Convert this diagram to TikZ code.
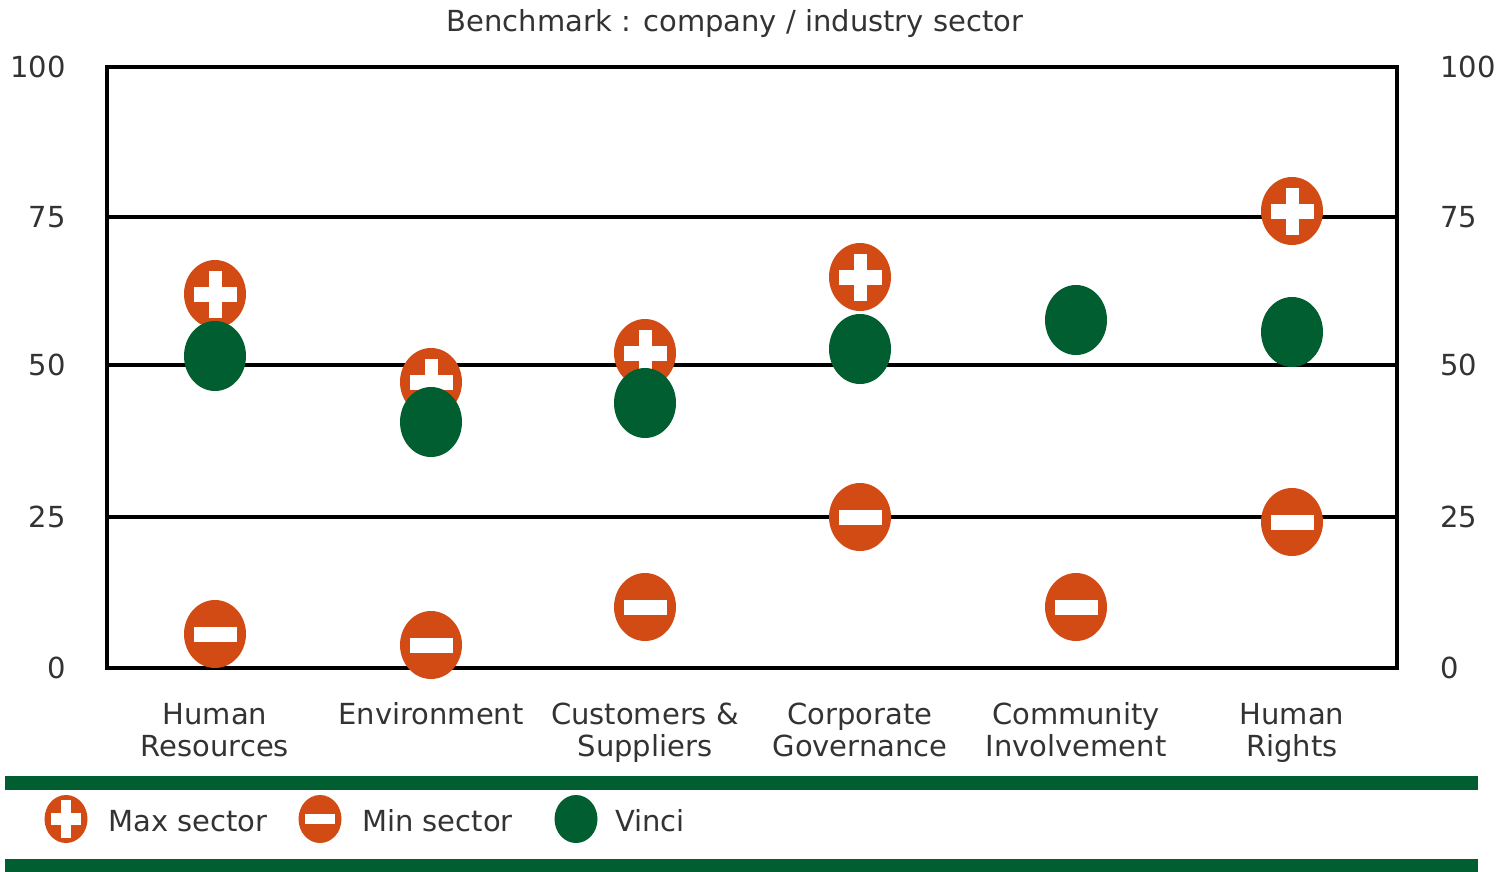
\documentclass[tikz,border=0pt]{standalone}
\usepackage{fontspec}
\setmainfont{DejaVu Sans}
\usetikzlibrary{shapes.geometric}
\definecolor{markorange}{HTML}{D24B14}
\definecolor{markgreen}{HTML}{005E30}
\definecolor{txt}{HTML}{333333}
\begin{document}
\begin{tikzpicture}[x=1pt,y=-1pt,
  lbl/.style={font=\fontsize{29}{32}\selectfont, text=txt, inner sep=0, align=center},
  cat/.style={lbl, anchor=north},
  grid/.style={line width=4pt, black},
  maxm/.style={ellipse, fill=markorange, minimum width=62, minimum height=68, inner sep=0,
    path picture={
      \fill[white] ([shift={(-21.5,-7.5)}]path picture bounding box.center) rectangle ([shift={(21.5,7.5)}]path picture bounding box.center);
      \fill[white] ([shift={(-6.5,-23.5)}]path picture bounding box.center) rectangle ([shift={(6.5,23.5)}]path picture bounding box.center);}},
  minm/.style={ellipse, fill=markorange, minimum width=62, minimum height=68, inner sep=0,
    path picture={
      \fill[white] ([shift={(-21.5,-7.5)}]path picture bounding box.center) rectangle ([shift={(21.5,7.5)}]path picture bounding box.center);}},
  vinm/.style={ellipse, fill=markgreen, minimum width=62, minimum height=70, inner sep=0},
  lmaxm/.style={ellipse, fill=markorange, minimum width=43, minimum height=48, inner sep=0,
    path picture={
      \fill[white] ([shift={(-15,-6)}]path picture bounding box.center) rectangle ([shift={(15,6)}]path picture bounding box.center);
      \fill[white] ([shift={(-5,-19)}]path picture bounding box.center) rectangle ([shift={(5,19)}]path picture bounding box.center);}},
  lminm/.style={ellipse, fill=markorange, minimum width=43, minimum height=48, inner sep=0,
    path picture={
      \fill[white] ([shift={(-15,-5)}]path picture bounding box.center) rectangle ([shift={(15,5)}]path picture bounding box.center);}},
  lvinm/.style={ellipse, fill=markgreen, minimum width=43, minimum height=48, inner sep=0},
  band/.style={markgreen, line width=14pt},
]
\useasboundingbox (0,0) rectangle (1499,871);
% title
\node[lbl] (title) at (735,23) {Benchmark : company / industry sector};
% grid and frame
\draw[grid] (107,217) -- (1397,217);
\draw[grid] (107,365) -- (1397,365);
\draw[grid] (107,517) -- (1397,517);
\draw[grid] (107,67) rectangle (1397,668);
% left axis labels
\node[lbl, anchor=east] (l100) at (66,67) {100};
\node[lbl, anchor=east] (l75) at (66,217) {75};
\node[lbl, anchor=east] (l50) at (66,365) {50};
\node[lbl, anchor=east] (l25) at (66,517) {25};
\node[lbl, anchor=east] (l0) at (66,668) {0};
% right axis labels
\node[lbl, anchor=west] (r100) at (1440,67) {100};
\node[lbl, anchor=west] (r75) at (1440,217) {75};
\node[lbl, anchor=west] (r50) at (1440,365) {50};
\node[lbl, anchor=west] (r25) at (1440,517) {25};
\node[lbl, anchor=west] (r0) at (1440,668) {0};
% category labels
\node[cat] (c1) at (215,702) {\strut Human\\Resources};
\node[cat] (c2) at (431,702) {\strut Environment};
\node[cat] (c3) at (645,702) {\strut Customers \&\\Suppliers};
\node[cat] (c4) at (860,702) {\strut Corporate\\Governance};
\node[cat] (c5) at (1076,702) {\strut Community\\Involvement};
\node[cat] (c6) at (1292,702) {\strut Human\\Rights};
% markers
\node[maxm] (hr-max) at (215,294) {};
\node[vinm] (hr-vin) at (215,356) {};
\node[minm] (hr-min) at (215,634) {};
\node[maxm] (env-max) at (431,382) {};
\node[vinm] (env-vin) at (431,422) {};
\node[minm] (env-min) at (431,645) {};
\node[maxm] (cus-max) at (645,353) {};
\node[vinm] (cus-vin) at (645,403) {};
\node[minm] (cus-min) at (645,607) {};
\node[maxm] (cor-max) at (860,277) {};
\node[vinm] (cor-vin) at (860,349) {};
\node[minm] (cor-min) at (860,517) {};
\node[vinm] (com-vin) at (1076,320) {};
\node[minm] (com-min) at (1076,607) {};
\node[maxm] (hri-max) at (1292,211) {};
\node[vinm] (hri-vin) at (1292,332) {};
\node[minm] (hri-min) at (1292,522) {};
% legend
\draw[band] (5,783) -- (1478,783);
\draw[band] (5,866) -- (1478,866);
\node[lmaxm] (lg-max) at (66,819) {};
\node[lbl, anchor=west] (lg-maxt) at (108,821) {Max sector};
\node[lminm] (lg-min) at (320,819) {};
\node[lbl, anchor=west] (lg-mint) at (362,821) {Min sector};
\node[lvinm] (lg-vin) at (576,819) {};
\node[lbl, anchor=west] (lg-vint) at (615,821) {Vinci};
\end{tikzpicture}
\end{document}
